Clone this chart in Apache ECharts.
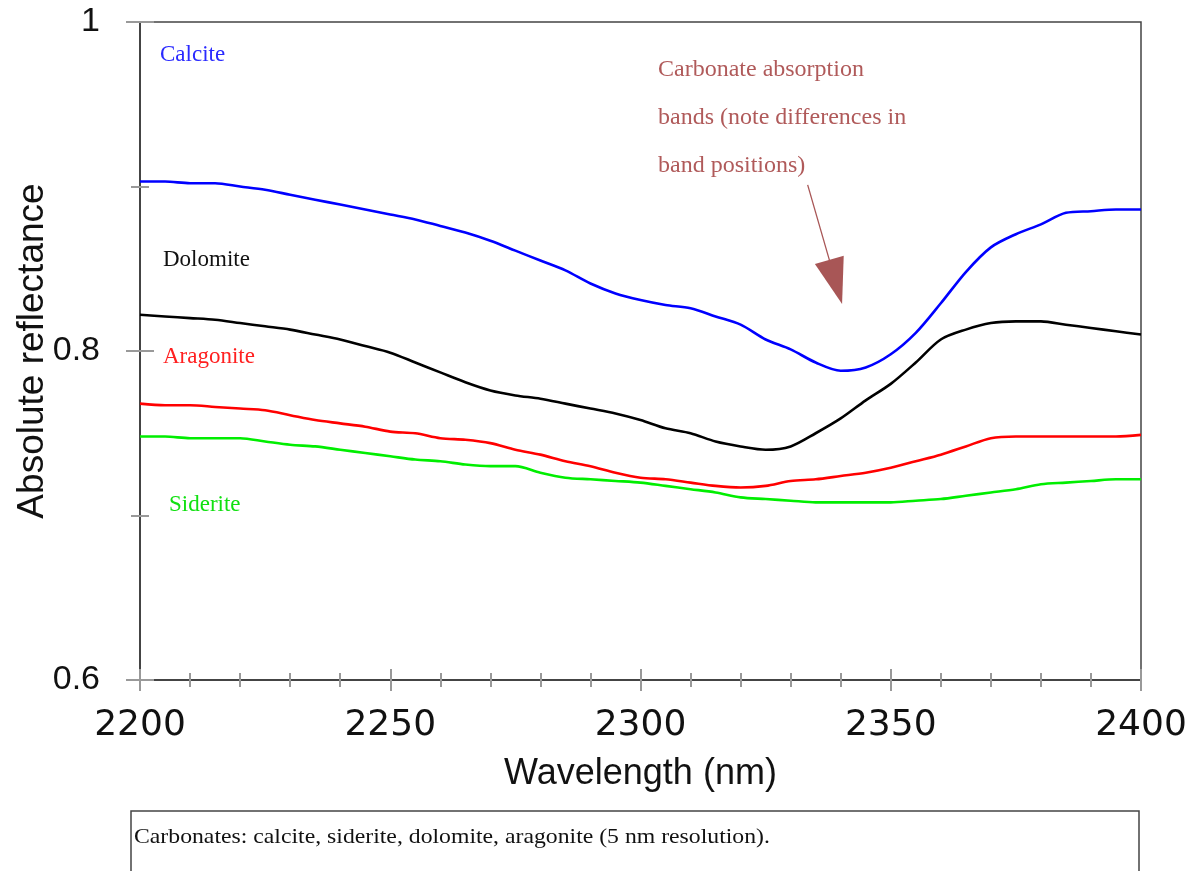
<!DOCTYPE html>
<html><head><meta charset="utf-8">
<script src="https://cdn.jsdelivr.net/npm/echarts@6/dist/echarts.min.js"></script>
<style>html,body{margin:0;padding:0;background:#fff}#c{width:1189px;height:871px}</style>
</head><body><div id="c"></div>
<script>
const wavelengths = [2200,2205,2210,2215,2220,2225,2230,2235,2240,2245,2250,2255,2260,2265,2270,2275,2280,2285,2290,2295,2300,2305,2310,2315,2320,2325,2330,2335,2340,2345,2350,2355,2360,2365,2370,2375,2380,2385,2390,2395,2400];
const calcite = [0.903,0.903,0.902,0.902,0.900,0.898,0.895,0.892,0.889,0.886,0.883,0.880,0.876,0.872,0.867,0.861,0.855,0.849,0.841,0.835,0.831,0.828,0.826,0.821,0.816,0.807,0.801,0.793,0.788,0.790,0.798,0.811,0.829,0.848,0.863,0.871,0.877,0.884,0.885,0.886,0.886];
const dolomite = [0.822,0.821,0.820,0.819,0.817,0.815,0.813,0.810,0.807,0.803,0.799,0.793,0.787,0.781,0.776,0.773,0.771,0.768,0.765,0.762,0.758,0.753,0.750,0.745,0.742,0.740,0.742,0.750,0.759,0.770,0.780,0.793,0.807,0.813,0.817,0.818,0.818,0.816,0.814,0.812,0.810];
const aragonite = [0.768,0.767,0.767,0.766,0.765,0.764,0.761,0.758,0.756,0.754,0.751,0.750,0.747,0.746,0.744,0.740,0.737,0.733,0.730,0.726,0.723,0.722,0.720,0.718,0.717,0.718,0.721,0.722,0.724,0.726,0.729,0.733,0.737,0.742,0.747,0.748,0.748,0.748,0.748,0.748,0.749];
const siderite = [0.748,0.748,0.747,0.747,0.747,0.745,0.743,0.742,0.740,0.738,0.736,0.734,0.733,0.731,0.730,0.730,0.726,0.723,0.722,0.721,0.720,0.718,0.716,0.714,0.711,0.710,0.709,0.708,0.708,0.708,0.708,0.709,0.710,0.712,0.714,0.716,0.719,0.720,0.721,0.722,0.722];
const yTickLabels = ['0.6','0.8','1'];
const arrowFrom = [2333.4, 0.901];
const arrowTo = [2339.0, 0.842];

const chart = echarts.init(document.getElementById('c'), null, {renderer:'canvas'});
const zip = (ys) => wavelengths.map((w,i)=>[w, ys[i]]);
const serif = '"Liberation Serif","Times New Roman",serif';
const sans = '"Liberation Sans",Arial,sans-serif';
function mk(name, ys, color, extra) {
  return Object.assign({
    name, type:'line', data: zip(ys), showSymbol:false, smooth:0.3,
    lineStyle:{color, width:2.6}, itemStyle:{color}, silent:true, z:3
  }, extra||{});
}
const axBase = {type:'value', min:2200, max:2400, interval:50};
const arrowColor = '#a85656';
chart.setOption({
  animation:false,
  grid:{left:140, right:48, top:22, bottom:191, outerBoundsMode:'none', containLabel:false,
        show:true, borderColor:'#444', borderWidth:1.5, backgroundColor:'transparent'},
  xAxis:[
    Object.assign({}, axBase, {
      name:'Wavelength (nm)', nameLocation:'middle', nameGap:76, nameMoveOverlap:false,
      nameTextStyle:{fontFamily:sans, fontSize:36, color:'#111'},
      axisLine:{show:true, lineStyle:{color:'#444', width:2}},
      axisTick:{show:true, inside:false, length:11, lineStyle:{color:'#999', width:2}},
      minorTick:{show:true, splitNumber:5, length:7, lineStyle:{color:'#999', width:2}},
      axisLabel:{fontFamily:'"DejaVu Sans",sans-serif', fontSize:36, color:'#111', margin:28,
        formatter:(v)=>String(v)},
      splitLine:{show:false}
    }),
    Object.assign({}, axBase, {
      gridIndex:0, position:'bottom',
      axisLine:{show:false},
      axisTick:{show:true, inside:true, length:11, lineStyle:{color:'#999', width:2}},
      minorTick:{show:true, splitNumber:5, length:7, lineStyle:{color:'#999', width:2}},
      axisLabel:{show:false}, splitLine:{show:false}
    })
  ],
  yAxis:[
    {type:'value', min:0.6, max:1, interval:0.2,
      name:'Absolute reflectance', nameLocation:'middle', nameGap:89, nameMoveOverlap:false,
      nameTextStyle:{fontFamily:sans, fontSize:37, color:'#111'},
      axisLine:{show:true, lineStyle:{color:'#444', width:2}},
      axisTick:{show:true, inside:false, length:14, lineStyle:{color:'#999', width:2}},
      minorTick:{show:true, splitNumber:2, length:9, lineStyle:{color:'#999', width:2}},
      axisLabel:{fontFamily:sans, fontSize:34, color:'#111', margin:40,
        formatter:(v)=>{ const s = (Math.round(v*10)/10).toString(); return yTickLabels.includes(s)?s:''; }},
      splitLine:{show:false}
    },
    {type:'value', min:0.6, max:1, interval:0.2, position:'left',
      axisLine:{show:false},
      axisTick:{show:true, inside:true, length:14, lineStyle:{color:'#999', width:2}},
      minorTick:{show:true, splitNumber:2, length:9, lineStyle:{color:'#999', width:2}},
      axisLabel:{show:false}, splitLine:{show:false}
    }
  ],
  series:[
    mk('Calcite', calcite, '#0000ff', {
      markLine:{
        silent:true, symbol:['none','triangle'], symbolSize:[0,[30,46]],
        lineStyle:{color:arrowColor, width:1.3, type:'solid', opacity:1},
        itemStyle:{color:arrowColor},
        label:{show:false},
        data:[[{coord:arrowFrom, symbol:'none'},{coord:arrowTo, symbol:'triangle', symbolSize:[30,46], itemStyle:{color:arrowColor}}]]
      }
    }),
    mk('Dolomite', dolomite, '#000000'),
    mk('Aragonite', aragonite, '#ff0000'),
    mk('Siderite', siderite, '#00ee00')
  ],
  graphic:[
    {type:'text', left:160, top:43, style:{text:'Calcite', font:'23px '+serif, fill:'#2a2aff'}},
    {type:'text', left:163, top:248, style:{text:'Dolomite', font:'23px '+serif, fill:'#111'}},
    {type:'text', left:163, top:345, style:{text:'Aragonite', font:'23px '+serif, fill:'#ff2020'}},
    {type:'text', left:169, top:493, style:{text:'Siderite', font:'23px '+serif, fill:'#10e010'}},
    {type:'text', left:658, top:58, style:{text:'Carbonate absorption', font:'24px '+serif, fill:'#b05a5a'}},
    {type:'text', left:658, top:106, style:{text:'bands (note differences in', font:'24px '+serif, fill:'#b05a5a'}},
    {type:'text', left:658, top:154, style:{text:'band positions)', font:'24px '+serif, fill:'#b05a5a'}},
    {type:'rect', shape:{x:131, y:811, width:1008, height:80}, style:{fill:'#fff', stroke:'#444', lineWidth:1.5}},
    {type:'text', x:134, y:827, scaleX:1.13, style:{text:'Carbonates: calcite, siderite, dolomite, aragonite (5 nm resolution).', font:'21px '+serif, fill:'#111'}}
  ]
});
</script></body></html>
